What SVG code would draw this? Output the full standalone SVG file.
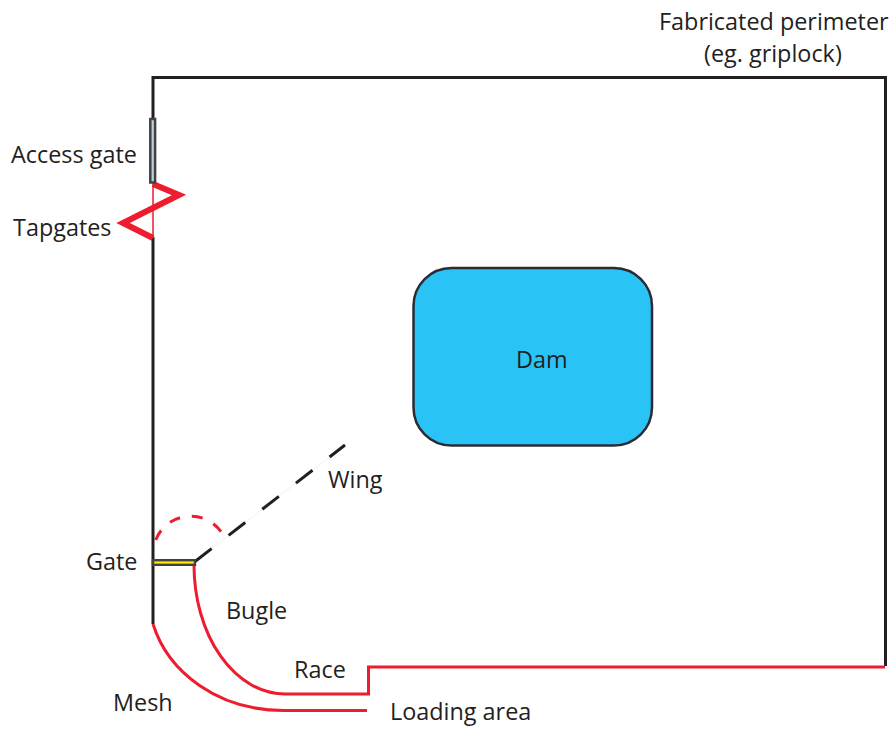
<svg xmlns="http://www.w3.org/2000/svg" width="893" height="729" viewBox="0 0 893 729">
<style>
text{font-family:"Open Sans","Noto Sans",sans-serif;font-size:23.4px;fill:#231f20}
.k{fill:none;stroke:#231f20;stroke-width:3}
.r{fill:none;stroke:#ed1c2e;stroke-width:3}
</style>
<rect width="893" height="729" fill="#fff"/>
<g id="connectors">
<path class="k" d="M153 183V77.500H885.500V666"/>
<path class="k" d="M153 237V624"/>
<path class="r" d="M885 667H368.500V694H285A91 129 0 0 1 194 565"/>
<path class="r" d="M153 624C168 672 218 711 285 710.500H367"/>
<path class="r" style="stroke-width:1.500" d="M153 183V238"/>
<path d="M153 184L179 195L123 223L153 238" fill="none" stroke="#ed1c2e" stroke-width="6"/>
<path class="r" d="M155.700 540A37.500 37.500 0 0 1 221.700 532.700" stroke-dasharray="11 12"/>
<path d="M195 561.500L345 445" fill="none" stroke="#f0f0f0" stroke-width="1"/>
<path class="k" d="M195 561.500L345 445" stroke-dasharray="21 21.600"/>
</g>
<g id="access-gate"><rect x="150.300" y="119" width="4.800" height="63.500" fill="#bcd0dc" stroke="#414042" stroke-width="2.500"/><text x="11" y="163">Access gate</text></g>
<g id="tapgates"><text x="13" y="236">Tapgates</text></g>
<g id="gate"><rect x="153" y="560.200" width="42" height="4.600" fill="#ffec00" stroke="#414042" stroke-width="2.400"/><text x="86" y="570">Gate</text></g>
<g id="dam"><rect x="413.500" y="268" width="238.500" height="177.500" rx="38" fill="#29c3f5" stroke="#2b2b33" stroke-width="2.500"/><text x="516" y="368">Dam</text></g>
<g id="wing"><text x="328" y="488">Wing</text></g>
<g id="bugle"><text x="226" y="619">Bugle</text></g>
<g id="race"><text x="294" y="678">Race</text></g>
<g id="mesh"><text x="113" y="711">Mesh</text></g>
<g id="loading-area"><text x="390" y="720">Loading area</text></g>
<g id="perimeter"><text x="659" y="30">Fabricated perimeter</text><text x="704" y="62">(eg. griplock)</text></g>
</svg>
